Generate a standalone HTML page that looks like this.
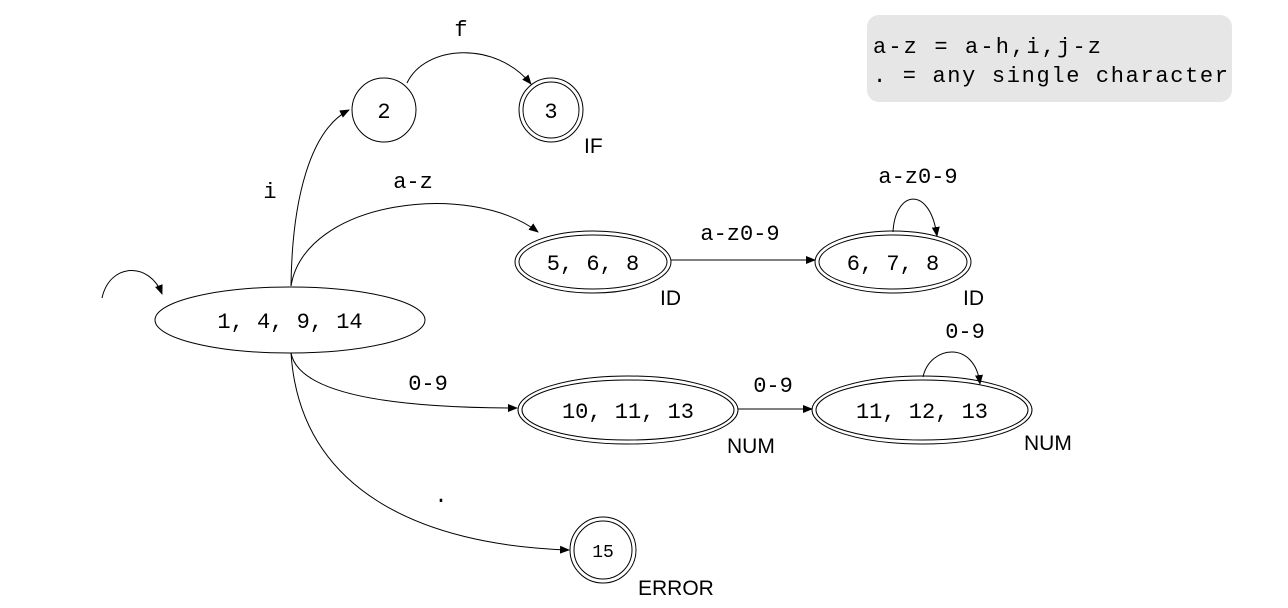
<!DOCTYPE html>
<html><head><meta charset="utf-8"><style>
html,body{margin:0;padding:0;background:#fff;}
svg{display:block;}
text{font-family:"Liberation Mono","DejaVu Sans Mono",monospace;fill:#000;}
</style></head><body>
<svg width="1288" height="608" viewBox="0 0 1288 608" xmlns="http://www.w3.org/2000/svg">
<defs><marker id="a" markerWidth="10" markerHeight="10" refX="9" refY="5" orient="auto" markerUnits="userSpaceOnUse"><path d="M0,1 L10,5 L0,9 z" fill="#000"/></marker></defs>
<rect x="867" y="15" width="365" height="87" rx="12" fill="#e6e6e6"/>
<text x="873" y="53" font-size="22" textLength="228">a-z = a-h,i,j-z</text>
<text x="873" y="82" font-size="22" textLength="355">.   = any single character</text>
<g fill="none" stroke="#000" stroke-width="1">
<path d="M102,298 C110,262 150,262 162,294" marker-end="url(#a)"/>
<path d="M407,83 C425,45 495,40 531,84" marker-end="url(#a)"/>
<path d="M291,286 C292,200 310,130 349,110" marker-end="url(#a)"/>
<path d="M291,286 C305,200 470,180 538,232" marker-end="url(#a)"/>
<path d="M671,260 L815,260" marker-end="url(#a)"/>
<path d="M893,232 C895,190 930,185 937,236" marker-end="url(#a)"/>
<path d="M291,353 C300,400 420,408 517,408" marker-end="url(#a)"/>
<path d="M738,409 L812,409" marker-end="url(#a)"/>
<path d="M923,377 C930,345 975,340 980,384" marker-end="url(#a)"/>
<path d="M291,353 C300,490 420,545 569,550" marker-end="url(#a)"/>
<ellipse cx="290" cy="320" rx="135" ry="33"/>
<circle cx="384" cy="110" r="32"/>
<circle cx="551" cy="110" r="32"/><circle cx="551" cy="110" r="28"/>
<ellipse cx="593" cy="262" rx="78" ry="31"/><ellipse cx="593" cy="262" rx="74" ry="27"/>
<ellipse cx="893" cy="262" rx="78" ry="31"/><ellipse cx="893" cy="262" rx="74" ry="27"/>
<ellipse cx="628" cy="410" rx="110" ry="34"/><ellipse cx="628" cy="410" rx="106" ry="30"/>
<ellipse cx="922" cy="410" rx="110" ry="34"/><ellipse cx="922" cy="410" rx="106" ry="30"/>
<circle cx="603" cy="550" r="33"/><circle cx="603" cy="550" r="29"/>
</g>
<g font-size="22" text-anchor="middle">
<text x="290" y="328">1, 4, 9, 14</text>
<text x="384" y="118">2</text>
<text x="551" y="118">3</text>
<text x="593" y="270">5, 6, 8</text>
<text x="893" y="270">6, 7, 8</text>
<text x="628" y="418">10, 11, 13</text>
<text x="922" y="418">11, 12, 13</text>
<text x="603" y="557" font-size="18">15</text>
<text x="461" y="36">f</text>
<text x="270" y="198">i</text>
<text x="413" y="188">a-z</text>
<text x="740" y="240">a-z0-9</text>
<text x="918" y="183">a-z0-9</text>
<text x="428" y="390">0-9</text>
<text x="773" y="392">0-9</text>
<text x="965" y="338">0-9</text>
<text x="441" y="502">.</text>
</g>
<g font-size="21" font-family="Liberation Sans, sans-serif">
<text x="584" y="153" style="font-family:'Liberation Sans',sans-serif">IF</text>
<text x="660" y="305" style="font-family:'Liberation Sans',sans-serif">ID</text>
<text x="963" y="305" style="font-family:'Liberation Sans',sans-serif">ID</text>
<text x="727" y="453" style="font-family:'Liberation Sans',sans-serif">NUM</text>
<text x="1024" y="450" style="font-family:'Liberation Sans',sans-serif">NUM</text>
<text x="638" y="595" style="font-family:'Liberation Sans',sans-serif">ERROR</text>
</g>
</svg>
</body></html>
